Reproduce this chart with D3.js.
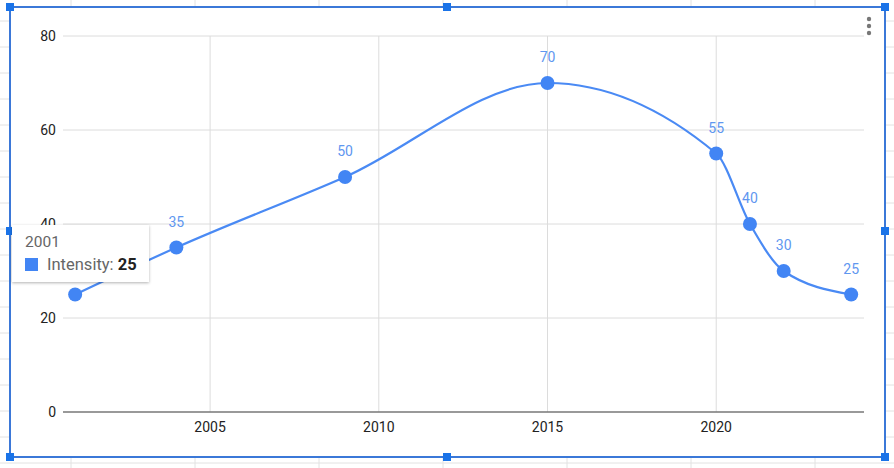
<!DOCTYPE html>
<html><head><meta charset="utf-8">
<script src="https://cdn.jsdelivr.net/npm/d3@7"></script>
<style>body{margin:0;background:#fff;}svg{display:block;font-family:Roboto,Arial,sans-serif;}</style>
</head><body>
<svg id="c" width="894" height="468"></svg>
<script>
const years = [2001, 2004, 2009, 2015, 2020, 2021, 2022, 2024];
const intensity = [25, 35, 50, 70, 55, 40, 30, 25];
const xTicks = [2005, 2010, 2015, 2020];
const yTicks = [0, 20, 40, 60, 80];
const seriesName = "Intensity";
const tooltipIndex = 0;

const svg = d3.select("#c");
const W = 894, H = 468;
// spreadsheet background grid
const bg = svg.append("g");
for (let x = 71; x < W; x += 124) bg.append("line").attr("x1", x).attr("x2", x).attr("y1", 0).attr("y2", H).attr("stroke", "#e2e2e2");
for (let y = 21; y < H; y += 26) bg.append("line").attr("x1", 0).attr("x2", W).attr("y1", y).attr("y2", y).attr("stroke", "#e2e2e2");
// chart area
svg.append("rect").attr("x", 10).attr("y", 7).attr("width", 875).attr("height", 450).attr("fill", "#fff");

const x = d3.scaleLinear().domain([2000.64, 2024.38]).range([63, 864]);
const y = d3.scaleLinear().domain([0, 80]).range([412, 36]);

const g = svg.append("g");
g.selectAll(".hg").data(yTicks.filter(d => d > 0)).join("line")
  .attr("x1", 63).attr("x2", 864).attr("y1", d => y(d)).attr("y2", d => y(d))
  .attr("stroke", "#dcdcdc").attr("stroke-width", 1);
g.selectAll(".vg").data(xTicks).join("line")
  .attr("x1", d => x(d)).attr("x2", d => x(d)).attr("y1", y(80)).attr("y2", y(0))
  .attr("stroke", "#dcdcdc").attr("stroke-width", 1);
g.append("line").attr("x1", 63).attr("x2", 864).attr("y1", y(0)).attr("y2", y(0)).attr("stroke", "#777").attr("stroke-width", 1.5);

g.selectAll(".yl").data(yTicks).join("text")
  .attr("x", 56).attr("y", d => y(d) + 5).attr("text-anchor", "end")
  .attr("font-size", 14).attr("fill", "#222").text(d => d);
g.selectAll(".xl").data(xTicks).join("text")
  .attr("x", d => x(d)).attr("y", 432).attr("text-anchor", "middle")
  .attr("font-size", 14).attr("fill", "#222").text(d => d);

const pts = years.map((yr, i) => [yr, intensity[i], i]);
const line = d3.line().x(d => x(d[0])).y(d => y(d[1])).curve(d3.curveMonotoneX);
g.append("path").attr("d", line(pts)).attr("fill", "none").attr("stroke", "#4a8af4").attr("stroke-width", 2.2);
g.selectAll(".pt").data(pts).join("circle")
  .attr("cx", d => x(d[0])).attr("cy", d => y(d[1])).attr("r", 7).attr("fill", "#4285f4");
// label of the hovered point is hidden beneath the tooltip in the reference
g.selectAll(".dl").data(pts.filter(d => d[2] !== tooltipIndex)).join("text")
  .attr("x", d => x(d[0])).attr("y", d => y(d[1]) - 21).attr("text-anchor", "middle")
  .attr("font-size", 14).attr("fill", "#5f97f0").text(d => d[1]);

// menu dots
[19, 26, 33].forEach(cy => svg.append("circle").attr("cx", 869).attr("cy", cy).attr("r", 2.2).attr("fill", "#777"));

// selection border
const sel = svg.append("g");
sel.append("rect").attr("x", 10).attr("y", 7).attr("width", 875).attr("height", 450).attr("fill", "none").attr("stroke", "#3b78d8").attr("stroke-width", 2);
[[10,7],[447,7],[885,7],[10,231],[885,231],[10,457],[447,457],[885,457]].forEach(([hx, hy]) =>
  sel.append("rect").attr("x", hx - 4).attr("y", hy - 4).attr("width", 8).attr("height", 8).attr("fill", "#1a73e8"));

// tooltip
const defs = svg.append("defs");
const f = defs.append("filter").attr("id", "sh").attr("x", "-20%").attr("y", "-20%").attr("width", "140%").attr("height", "160%");
f.append("feDropShadow").attr("dx", 0).attr("dy", 1).attr("stdDeviation", 1.5).attr("flood-color", "#000").attr("flood-opacity", 0.3);
const tt = svg.append("g");
tt.append("rect").attr("x", 12).attr("y", 225).attr("width", 137).attr("height", 57).attr("fill", "#fff").attr("filter", "url(#sh)");
tt.append("text").attr("x", 25).attr("y", 247).attr("font-size", 15.5).attr("fill", "#666").text(years[tooltipIndex]);
tt.append("rect").attr("x", 25).attr("y", 258).attr("width", 13).attr("height", 13).attr("fill", "#4285f4");
const t2 = tt.append("text").attr("x", 47).attr("y", 270).attr("font-size", 16.5).attr("fill", "#666");
t2.append("tspan").text(seriesName + ": ");
t2.append("tspan").attr("font-weight", "bold").attr("fill", "#222").text(intensity[tooltipIndex]);
</script>
</body></html>
